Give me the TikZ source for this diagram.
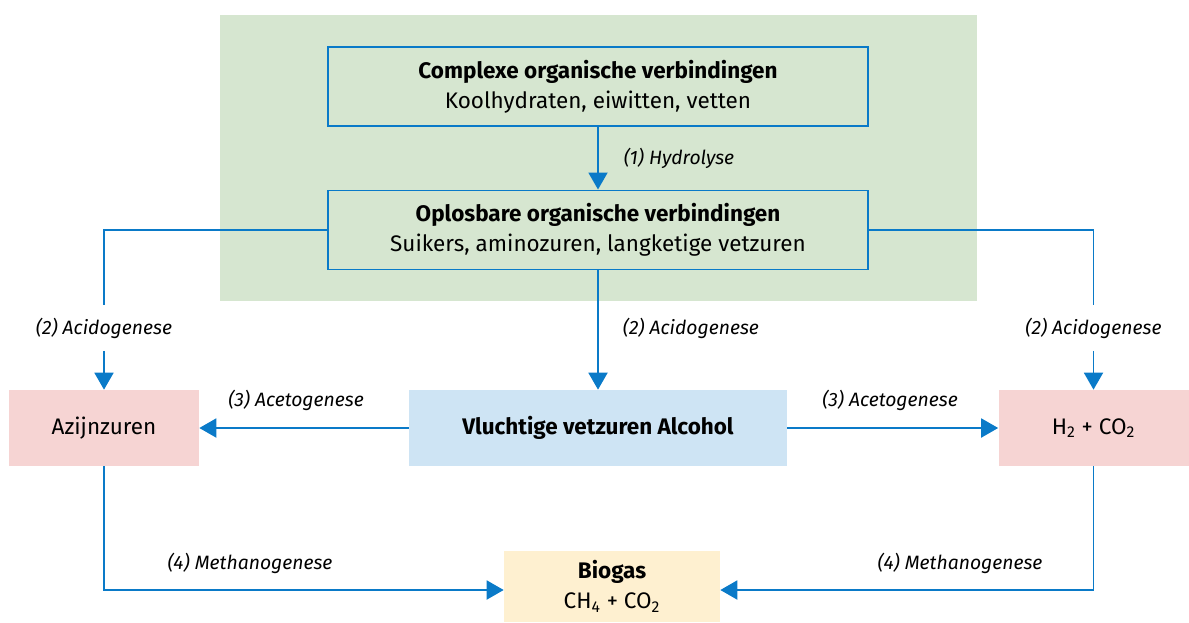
\documentclass[tikz,border=0pt]{standalone}
\usepackage{fontspec}
\setmainfont{Fira Sans}
\usetikzlibrary{arrows.meta}
\definecolor{flowblue}{RGB}{10,122,200}
\definecolor{phasegreen}{RGB}{214,230,208}
\definecolor{acidpink}{RGB}{246,212,211}
\definecolor{fattyblue}{RGB}{206,228,244}
\definecolor{gasyellow}{RGB}{254,240,208}

\begin{document}
\begin{tikzpicture}[
    x=0.02cm, y=-0.02cm,
    font=\fontsize{12.8}{17}\selectfont,
    box/.style={draw=flowblue, line width=1.1pt, fill=phasegreen, minimum width=10.8cm, minimum height=1.58cm, align=center, inner sep=0pt},
    stage/.style={minimum height=1.52cm, align=center, inner sep=0pt},
    lbl/.style={font=\fontsize{11}{13}\selectfont\itshape, inner sep=2pt},
    gap/.style={lbl, minimum height=0.9cm},
    line/.style={draw=flowblue, line width=1.1pt},
    arr/.style={line, -{Triangle[width=0.38cm, length=0.34cm]}}
]
    \useasboundingbox (0,0) rectangle (1189,622);
    \fill[phasegreen] (220,15) rectangle (977,301);

    \node[box] (complex) at (598,86.5) {\textbf{Complexe organische verbindingen}\\Koolhydraten, eiwitten, vetten};
    \node[box] (oplos) at (598,230) {\textbf{Oplosbare organische verbindingen}\\Suikers, aminozuren, langketige vetzuren};
    \node[stage, fill=acidpink, minimum width=3.8cm] (azijn) at (104,428) {Azijnzuren};
    \node[stage, fill=fattyblue, minimum width=7.56cm] (vlucht) at (598,428) {\textbf{Vluchtige vetzuren Alcohol}};
    \node[stage, fill=acidpink, minimum width=3.8cm] (h2) at (1093.5,428) {H\textsubscript{2} + CO\textsubscript{2}};
    \node[stage, fill=gasyellow, minimum width=4.32cm, minimum height=1.42cm] (biogas) at (612,586.5) {\textbf{Biogas}\\CH\textsubscript{4} + CO\textsubscript{2}};

    % labels
    \node[lbl, anchor=west] (hydro) at (620,158) {(1) Hydrolyse};
    \node[gap] (acidL) at (104,328) {(2) Acidogenese};
    \node[lbl, anchor=west] (acidM) at (619,328) {(2) Acidogenese};
    \node[gap] (acidR) at (1093.5,328) {(2) Acidogenese};
    \node[lbl] (acetoL) at (296,400) {(3) Acetogenese};
    \node[lbl] (acetoR) at (890,400) {(3) Acetogenese};
    \node[lbl] (methL) at (250,563) {(4) Methanogenese};
    \node[lbl] (methR) at (960,563) {(4) Methanogenese};

    \draw[arr] (complex) -- (oplos);
    \draw[line] (oplos.west) -| (acidL.north);
    \draw[arr] (acidL.south) -- (azijn.north);
    \draw[line] (oplos.east) -| (acidR.north);
    \draw[arr] (acidR.south) -- (h2.north);
    \draw[arr] (oplos) -- (vlucht);
    \draw[arr] (vlucht) -- (azijn);
    \draw[arr] (vlucht) -- (h2);
    \draw[arr] (azijn.south) |- ([yshift=-0.07cm]biogas.west);
    \draw[arr] (h2.south) |- ([yshift=-0.07cm]biogas.east);
\end{tikzpicture}
\end{document}
